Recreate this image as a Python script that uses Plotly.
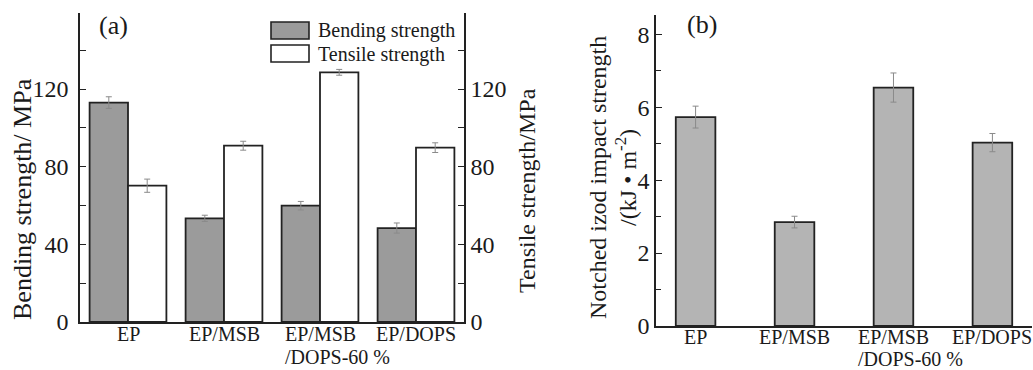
import plotly.graph_objects as go

W, H = 1033, 370

# ---- data ----
categories = ["EP", "EP/MSB", "EP/MSB", "EP/DOPS"]
category_line2 = ["", "", "/DOPS-60 %", ""]
bending = [113, 53.4, 59.9, 48.4]
bending_err = [3.0, 1.6, 2.2, 2.6]
tensile = [70.2, 90.8, 128.6, 89.8]
tensile_err = [3.4, 2.3, 1.5, 2.5]
impact = [5.73, 2.85, 6.54, 5.03]
impact_err = [0.30, 0.16, 0.40, 0.25]
xpos = [0, 1, 2, 3]

FONT = "Liberation Serif, Times New Roman, serif"
LINE = "#222222"
TXT = "#1a1a1a"


def px(x):
    return x / W


def py(y):
    return 1 - y / H


fig = go.Figure()

err_style = dict(type="data", color="#8a8a8a", thickness=1, width=3)

fig.add_trace(go.Bar(
    x=xpos, y=bending, xaxis="x", yaxis="y",
    width=0.4, offset=-0.4,
    marker=dict(color="#9b9b9b", line=dict(color=LINE, width=1.8)),
    error_y=dict(array=bending_err, **err_style),
    name="Bending strength", showlegend=False,
))
fig.add_trace(go.Bar(
    x=xpos, y=tensile, xaxis="x", yaxis="y2",
    width=0.4, offset=0.0,
    marker=dict(color="#ffffff", line=dict(color=LINE, width=1.8)),
    error_y=dict(array=tensile_err, **err_style),
    name="Tensile strength", showlegend=False,
))
fig.add_trace(go.Bar(
    x=xpos, y=impact, xaxis="x2", yaxis="y3",
    width=0.4,
    marker=dict(color="#b4b4b4", line=dict(color=LINE, width=1.8)),
    error_y=dict(array=impact_err, **err_style),
    name="Impact", showlegend=False,
))

ydomA = [py(322), py(13.3)]
ydomB = [py(326), py(15)]

common_y = dict(
    showline=True, linecolor=LINE, linewidth=1.5, ticks="inside", ticklen=6,
    tickwidth=1.3, tickcolor=LINE, showgrid=False, zeroline=False,
    color=TXT, automargin=False, tickangle=0,
)
common_x = dict(
    tickvals=xpos, showticklabels=False, ticks="",
    showline=True, linecolor=LINE, linewidth=1.5, showgrid=False,
    zeroline=False, automargin=False,
)

fig.update_layout(
    template="none",
    width=W, height=H,
    margin=dict(l=0, r=0, t=0, b=0, pad=0),
    paper_bgcolor="white", plot_bgcolor="rgba(0,0,0,0)",
    barmode="overlay",
    font=dict(family=FONT, color=TXT),
    showlegend=False,
    xaxis=dict(domain=[px(80), px(464)], range=[-0.5, 3.5], anchor="y", **common_x),
    yaxis=dict(
        domain=ydomA, range=[0, 159], anchor="x", side="left",
        tickvals=[0, 40, 80, 120], tickfont=dict(size=24, family=FONT),
        minor=dict(tickvals=[20, 60, 100, 140], ticks="inside", ticklen=6,
                   tickcolor=LINE, tickwidth=1.3),
        ticklabelstandoff=5,
        **common_y,
    ),
    yaxis2=dict(
        domain=ydomA, range=[0, 159], anchor="x", overlaying="y", side="right",
        tickvals=[0, 40, 80, 120], tickfont=dict(size=24, family=FONT),
        minor=dict(tickvals=[20, 60, 100, 140], ticks="inside", ticklen=6,
                   tickcolor=LINE, tickwidth=1.3),
        ticklabelstandoff=0,
        **common_y,
    ),
    xaxis2=dict(domain=[px(656), px(1032)], range=[-0.4, 3.4], anchor="y3", **common_x),
    yaxis3=dict(
        domain=ydomB, range=[0, 8.53], anchor="x2", side="left",
        tickvals=[0, 2, 4, 6, 8], tickfont=dict(size=24, family=FONT),
        minor=dict(tickvals=[1, 3, 5, 7], ticks="inside", ticklen=5,
                   tickcolor=LINE, tickwidth=1.3),
        ticklabelstandoff=0,
        **common_y,
    ),
)

# legend drawn manually (large swatches as in the reference)
shapes = []
for (y0, y1), fill in [((22, 39), "#9b9b9b"), ((45, 62), "#ffffff")]:
    shapes.append(dict(type="rect", xref="paper", yref="paper",
                       x0=px(271), x1=px(309), y0=py(y1), y1=py(y0),
                       fillcolor=fill, line=dict(color=LINE, width=1.6)))
fig.update_layout(shapes=shapes)


def note(text, x, y, size, angle=0, xanchor="left"):
    return dict(text=text, x=px(x), y=py(y), xref="paper", yref="paper",
                xanchor=xanchor, yanchor="middle", textangle=angle, showarrow=False,
                font=dict(size=size, family=FONT, color=TXT))


ann = [
    note("Bending strength", 316, 30, 20),
    note("Tensile strength", 316, 54, 20),
    note("(a)", 97, 26, 26),
    note("(b)", 685, 25, 26),
    note("Bending strength/ MPa", 23, 199, 26, -90, "center"),
    note("Tensile strength/MPa", 527, 191, 24, -90, "center"),
    note("Notched izod impact strength", 598, 178, 24, -90, "center"),
    note("/(kJ • m<sup>-2</sup>)", 626, 178, 24, -90, "center"),
]

# category labels, placed on the category axes
for xa, y1, y2 in [("x", 334, 357), ("x2", 337, 359)]:
    for xi, l1, l2 in zip(xpos, categories, category_line2):
        ann.append(dict(text=l1, x=xi, xref=xa, y=py(y1), yref="paper",
                        xanchor="center", yanchor="middle", showarrow=False,
                        font=dict(size=20, family=FONT, color=TXT)))
        if l2:
            ann.append(dict(text=l2, x=xi, xref=xa, y=py(y2), yref="paper",
                            xanchor="left", yanchor="middle", showarrow=False,
                            xshift=-37,
                            font=dict(size=20, family=FONT, color=TXT)))
fig.update_layout(annotations=ann)

fig.write_html("out.html")
